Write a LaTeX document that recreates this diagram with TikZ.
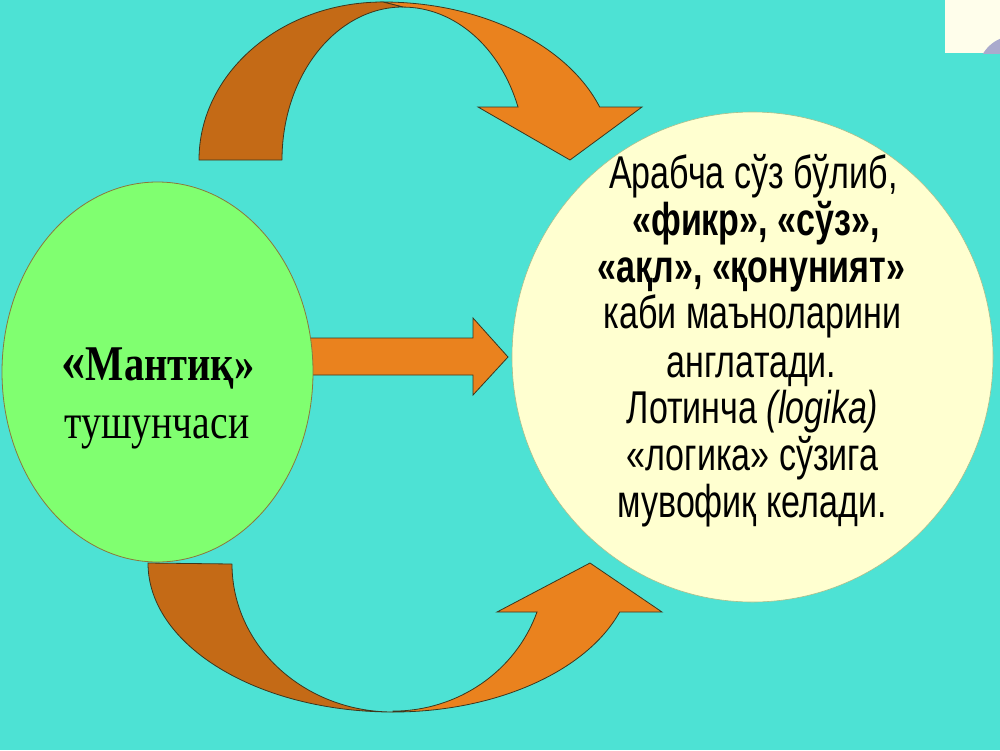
\documentclass[tikz,border=0pt]{standalone}
\usepackage{fontspec}
\setmainfont{Liberation Serif}
\newfontfamily\narrowsans[FakeStretch=0.74]{Liberation Sans}
\newfontfamily\narrowserif[FakeStretch=0.81]{Liberation Serif}
\usetikzlibrary{shapes.geometric}
\definecolor{bg}{RGB}{77,226,212}
\definecolor{leaf}{RGB}{128,255,112}
\definecolor{cream}{RGB}{255,255,208}
\definecolor{dkor}{RGB}{196,106,22}
\definecolor{ltor}{RGB}{234,130,30}
\definecolor{edge}{RGB}{60,55,30}
\definecolor{lav}{RGB}{170,170,205}
\tikzset{
  darkband/.style={fill=dkor,draw=edge,line width=0.8pt,line join=round},
  lightband/.style={fill=ltor,draw=edge,line width=0.8pt,line join=miter},
  rtext/.style={anchor=base,inner sep=0pt,font=\narrowsans\fontsize{46}{47}\selectfont},
  rbold/.style={rtext,font=\narrowsans\bfseries\fontsize{46}{47}\selectfont},
  ltext/.style={anchor=base,inner sep=0pt,font=\narrowserif\fontsize{49}{50}\selectfont},
}
\begin{document}
\begin{tikzpicture}[x=1pt,y=-1pt]
\useasboundingbox (0,0) rectangle (1000,750);
\fill[bg] (0,0) rectangle (1000,750);
% top-right box
\fill[white!92!yellow] (945,0) rectangle (1000,53);
\begin{scope}
\clip (945,0) rectangle (1000,53);
\fill[lav] (1014,72) circle (36);
\end{scope}
% top curved arrow
\path[lightband] (383,2) arc[start angle=270,end angle=340.4,x radius=230,y radius=158]
  -- (642,107) -- (570,160) -- (478,107) -- (518,107)
  arc[start angle=339.7,end angle=270,x radius=122.6,y radius=153] -- cycle;
\path[darkband] (199,160) arc[start angle=180,end angle=270,x radius=184,y radius=158]
  -- (403,7) arc[start angle=270,end angle=180,x radius=121,y radius=153] -- cycle;
% bottom curved arrow
\path[lightband] (393,712) arc[start angle=90,end angle=19.2,x radius=240,y radius=149]
  -- (662,612) -- (590,563) -- (497,612) -- (537,612)
  arc[start angle=19.3,end angle=90,x radius=152.6,y radius=148] -- cycle;
\path[darkband] (148,563) arc[start angle=180,end angle=90,x radius=245,y radius=149]
  arc[start angle=90,end angle=180,x radius=161,y radius=148] -- cycle;
% middle arrow
\path[lightband] (300,338) -- (473,338) -- (473,318) -- (508,357) -- (473,395)
  -- (473,375) -- (300,375) -- cycle;
% circles
\node[ellipse,fill=leaf,draw={rgb,255:red,140;green,120;blue,60},line width=0.8pt,
  minimum width=311pt,minimum height=380pt,inner sep=0pt] (green) at (157.5,372) {};
\node[ellipse,fill=cream,draw={rgb,255:red,170;green,190;blue,140},line width=0.6pt,
  minimum width=481pt,minimum height=490pt,inner sep=0pt] (cream) at (752.5,357) {};
% left text
\node[ltext,font=\narrowserif\bfseries\fontsize{50}{52}\selectfont] (m1) at (158,380) {{\fontsize{60}{60}\selectfont«}Мантиқ»};
\node[ltext] (m2) at (157,438) {тушунчаси};
% right text
\node[rtext] (r1) at (753.5,188) {Арабча сўз бўлиб,};
\node[rbold] (r2) at (756,235) {«фикр», «сўз»,};
\node[rbold] (r3) at (751.5,282) {«ақл», «қонуният»};
\node[rtext] (r4) at (752.5,328) {каби маъноларини};
\node[rtext] (r5) at (751.5,377) {англатади.};
\node[rtext] (r6) at (752.5,423) {Лотинча \itshape(logika)};
\node[rtext] (r7) at (752.5,470) {«логика» сўзига};
\node[rtext] (r8) at (752,517) {мувофиқ келади.};
\end{tikzpicture}
\end{document}
